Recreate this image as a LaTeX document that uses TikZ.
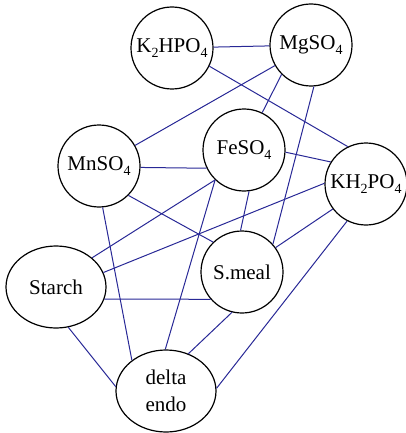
\documentclass[tikz,border=0pt]{standalone}
\usepackage{fontspec}
\setmainfont{Liberation Serif}
\usepackage{tikz}
\usetikzlibrary{shapes.geometric}
\definecolor{linkblue}{RGB}{40,40,150}
\newcommand{\chsub}[1]{\raisebox{-.28em}{\fontsize{7}{8}\selectfont #1}}
\tikzset{
  var/.style={circle, draw, line width=.6pt, minimum size=41pt, inner sep=0pt,
    font=\fontsize{10.5}{13.3}\selectfont},
  wvar/.style={var, ellipse, minimum width=50pt, minimum height=41pt, align=center},
  link/.style={linkblue, line width=.5pt}
}
\begin{document}
\begin{tikzpicture}[x=.5pt, y=-.5pt]
\useasboundingbox (0,0) rectangle (406,433);
\node[var] (k2hpo4) at (172,48) {K\chsub{2}HPO\chsub{4}};
\node[var] (mgso4) at (311,45) {MgSO\chsub{4}};
\node[var] (mnso4) at (99,166) {MnSO\chsub{4}};
\node[var] (feso4) at (244,150) {FeSO\chsub{4}};
\node[var] (kh2po4) at (366,184) {KH\chsub{2}PO\chsub{4}};
\node[wvar] (starch) at (56,287) {Starch};
\node[var] (smeal) at (242,272) {S.meal};
\node[wvar] (delta) at (166,391) {delta\\endo};

\draw[link] (k2hpo4) -- (mgso4);
\draw[link] (k2hpo4.-26) -- (kh2po4.116);
\draw[link] (mgso4) -- (mnso4);
\draw[link] (mgso4.-135) -- (feso4.64);
\draw[link] (mgso4.-86) -- (smeal.42);
\draw[link] (mnso4.-2) -- (feso4.206);
\draw[link] (mnso4.-45) -- (smeal.134);
\draw[link] (mnso4.-85) -- (delta.138);
\draw[link] (feso4.-3) -- (kh2po4.148);
\draw[link] (feso4.226) -- (starch.39);
\draw[link] (feso4.226) -- (delta.91);
\draw[link] (feso4.-83) -- (smeal.92);
\draw[link] (kh2po4.179) -- (starch.17);
\draw[link] (kh2po4.217) -- (smeal.36);
\draw[link] (kh2po4.243) -- (delta.3);
\draw[link] (starch.-14) -- (smeal.221);
\draw[link] (starch.-73) -- (delta.175);
\draw[link] (smeal.256) -- (delta.59);
\end{tikzpicture}
\end{document}
